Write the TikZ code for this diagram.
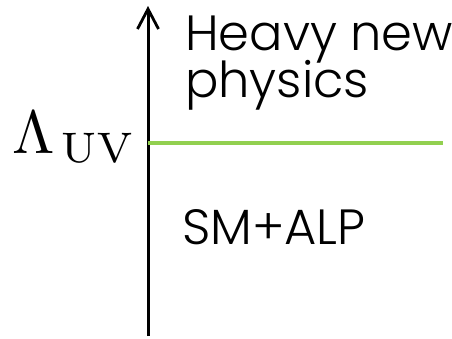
\documentclass[tikz,border=0pt]{standalone}
\usepackage{amsmath}
\usepackage[no-math]{fontspec}
\setmainfont{Poppins}[UprightFont=* Light]
\usetikzlibrary{arrows.meta}
\definecolor{ScaleGreen}{RGB}{146,208,80}

\begin{document}
\begin{tikzpicture}[x=1pt,y=-1pt]
  \useasboundingbox (0,0) rectangle (452,338);
  \tikzset{label text/.style={anchor=base west, inner sep=0pt, font=\fontsize{49.5}{56}\selectfont}}
  \coordinate (axisbot) at (148,336);
  \coordinate (axistop) at (148,6);
  \coordinate (cutoff) at (148,143);
  \coordinate (lineend) at (443,143);
  \draw[line width=3pt, -{Straight Barb[length=20pt, width=21pt, line width=2.8pt]}] (axisbot) -- (axistop);
  \draw[ScaleGreen, line width=4pt] (cutoff) -- (lineend);
  \node[label text] (heavy) at (185,50) {Heavy new};
  \node[label text] (physics) at (185,97) {physics};
  \node[label text] (smalp) at (182,244) {SM+ALP};
  \node[anchor=base west, inner sep=0pt] (lambda) at (12,153) {\scalebox{6.1}{$\Lambda_{\kern1pt\mathrm{UV}}$}};
\end{tikzpicture}
\end{document}
